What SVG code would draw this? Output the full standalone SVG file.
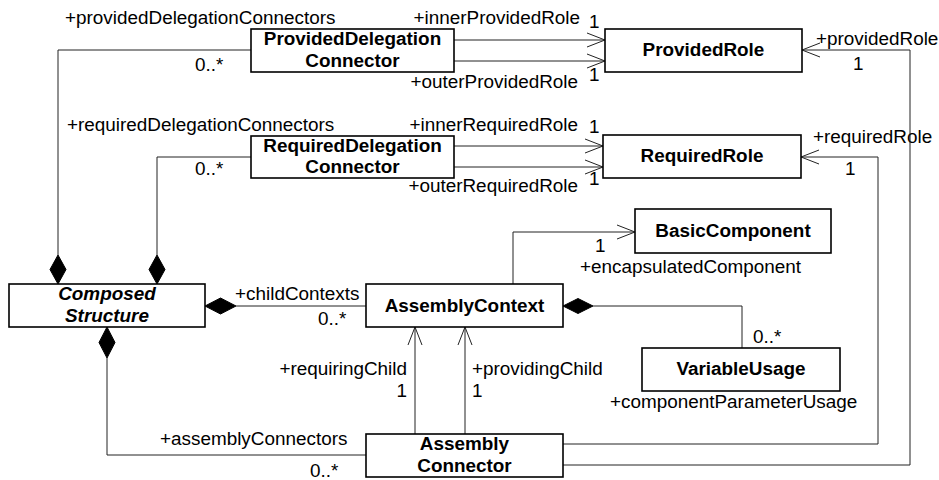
<svg xmlns="http://www.w3.org/2000/svg" width="939" height="480" viewBox="0 0 939 480">
<style>
  .box{fill:#fff;stroke:#000;stroke-width:1.6}
  .t{font-family:"Liberation Sans",Arial,sans-serif;font-size:18.9px;fill:#000}
  .b{font-weight:bold;text-anchor:middle}
  .bi{font-weight:bold;font-style:italic;text-anchor:middle}
  .e{text-anchor:end}
  .ln{fill:none;stroke:#222;stroke-width:1}
  .dm{fill:#000;stroke:#000;stroke-width:1}
</style>
<defs>
  <marker id="open" markerWidth="20" markerHeight="16" refX="18" refY="8" orient="auto" markerUnits="userSpaceOnUse">
    <path d="M0,1 L18,8 L0,15" fill="none" stroke="#222" stroke-width="1"/>
  </marker>
</defs>
<rect width="939" height="480" fill="#fff"/>

<g id="connectors">
  <!-- PDC -> ProvidedRole -->
  <line class="ln" x1="454" y1="40" x2="605" y2="40" marker-end="url(#open)"/>
  <line class="ln" x1="454" y1="61" x2="605" y2="61" marker-end="url(#open)"/>
  <text class="t e" x="580" y="24">+innerProvidedRole</text>
  <text class="t" x="589" y="28">1</text>
  <text class="t e" x="578" y="88">+outerProvidedRole</text>
  <text class="t" x="589" y="81">1</text>
  <!-- RDC -> RequiredRole -->
  <line class="ln" x1="454" y1="146" x2="603" y2="146" marker-end="url(#open)"/>
  <line class="ln" x1="454" y1="167" x2="603" y2="167" marker-end="url(#open)"/>
  <text class="t e" x="578" y="131">+innerRequiredRole</text>
  <text class="t" x="589" y="133">1</text>
  <text class="t e" x="578" y="192">+outerRequiredRole</text>
  <text class="t" x="589" y="185">1</text>
  <!-- ComposedStructure -> PDC -->
  <polyline class="ln" points="58,255 58,50 251,50"/>
  <path class="dm" d="M58,284 L66,269.5 L58,255 L50,269.5 Z"/>
  <text class="t" x="65" y="24">+providedDelegationConnectors</text>
  <text class="t" x="195" y="71">0..*</text>
  <!-- ComposedStructure -> RDC -->
  <polyline class="ln" points="157,255 157,157 251,157"/>
  <path class="dm" d="M157,284 L165,269.5 L157,255 L149,269.5 Z"/>
  <text class="t" x="67" y="131">+requiredDelegationConnectors</text>
  <text class="t" x="195" y="175">0..*</text>
  <!-- ComposedStructure -> AssemblyContext -->
  <line class="ln" x1="236" y1="306" x2="366" y2="306"/>
  <path class="dm" d="M205,306 L220.5,298 L236,306 L220.5,314 Z"/>
  <text class="t" x="235" y="300">+childContexts</text>
  <text class="t" x="318" y="325">0..*</text>
  <!-- ComposedStructure -> AssemblyConnector -->
  <polyline class="ln" points="107,358 107,455 366,455"/>
  <path class="dm" d="M107,327 L115,342.5 L107,358 L99,342.5 Z"/>
  <text class="t" x="160" y="445">+assemblyConnectors</text>
  <text class="t" x="310" y="477">0..*</text>
  <!-- AssemblyContext -> BasicComponent -->
  <polyline class="ln" points="513,284 513,232 635,232" marker-end="url(#open)"/>
  <text class="t" x="595" y="252">1</text>
  <text class="t" x="580" y="273">+encapsulatedComponent</text>
  <!-- AssemblyContext -> VariableUsage -->
  <polyline class="ln" points="593,306 742,306 742,348"/>
  <path class="dm" d="M563,306 L578,298.5 L593,306 L578,313.5 Z"/>
  <text class="t" x="753" y="343">0..*</text>
  <text class="t" x="610" y="408">+componentParameterUsage</text>
  <!-- AssemblyConnector -> AssemblyContext -->
  <line class="ln" x1="415" y1="434" x2="415" y2="327" marker-end="url(#open)"/>
  <line class="ln" x1="465" y1="434" x2="465" y2="327" marker-end="url(#open)"/>
  <text class="t e" x="407" y="375">+requiringChild</text>
  <text class="t e" x="407" y="397">1</text>
  <text class="t" x="472" y="375">+providingChild</text>
  <text class="t" x="472" y="397">1</text>
  <!-- AssemblyConnector -> RequiredRole -->
  <polyline class="ln" points="563,444 878,444 878,157 801,157" marker-end="url(#open)"/>
  <text class="t" x="813" y="143">+requiredRole</text>
  <text class="t" x="845" y="175">1</text>
  <!-- AssemblyConnector -> ProvidedRole -->
  <polyline class="ln" points="563,465 910,465 910,50 802,50" marker-end="url(#open)"/>
  <text class="t" x="816" y="45">+providedRole</text>
  <text class="t" x="853" y="70">1</text>
</g>

<g id="ProvidedDelegationConnector">
  <rect class="box" x="251" y="29" width="203" height="43"/>
  <text class="t b" x="352.5" y="45">ProvidedDelegation</text>
  <text class="t b" x="352.5" y="67">Connector</text>
</g>
<g id="ProvidedRole">
  <rect class="box" x="605" y="29" width="197" height="43"/>
  <text class="t b" x="703.5" y="56">ProvidedRole</text>
</g>
<g id="RequiredDelegationConnector">
  <rect class="box" x="251" y="136" width="203" height="42"/>
  <text class="t b" x="352.5" y="152">RequiredDelegation</text>
  <text class="t b" x="352.5" y="173">Connector</text>
</g>
<g id="RequiredRole">
  <rect class="box" x="603" y="135" width="198" height="43"/>
  <text class="t b" x="702" y="162">RequiredRole</text>
</g>
<g id="BasicComponent">
  <rect class="box" x="635" y="209" width="196" height="44"/>
  <text class="t b" x="733" y="237">BasicComponent</text>
</g>
<g id="ComposedStructure">
  <rect class="box" x="9" y="284" width="196" height="43"/>
  <text class="t bi" x="107" y="300">Composed</text>
  <text class="t bi" x="107" y="322">Structure</text>
</g>
<g id="AssemblyContext">
  <rect class="box" x="366" y="284" width="197" height="43"/>
  <text class="t b" x="464.5" y="312">AssemblyContext</text>
</g>
<g id="VariableUsage">
  <rect class="box" x="642" y="348" width="198" height="43"/>
  <text class="t b" x="741" y="375">VariableUsage</text>
</g>
<g id="AssemblyConnector">
  <rect class="box" x="366" y="434" width="197" height="43"/>
  <text class="t b" x="464.5" y="450">Assembly</text>
  <text class="t b" x="464.5" y="472">Connector</text>
</g>
</svg>
